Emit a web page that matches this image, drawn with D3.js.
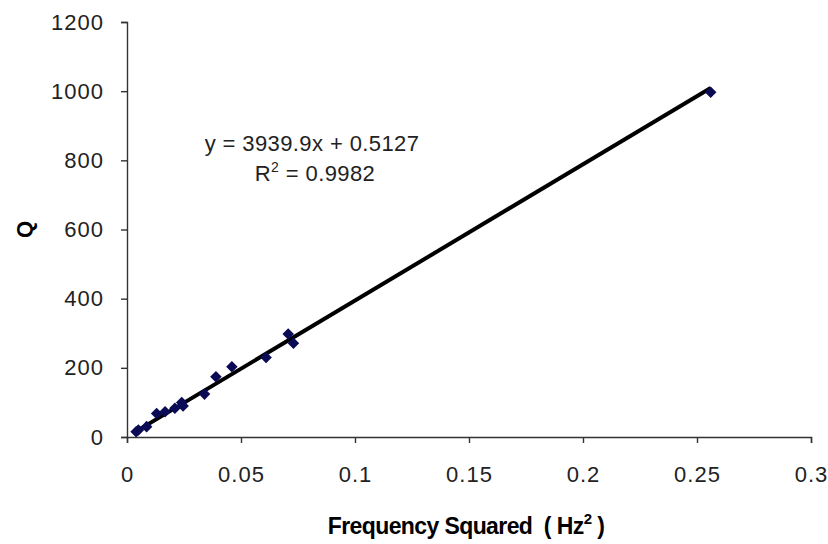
<!DOCTYPE html>
<html>
<head>
<meta charset="utf-8">
<script src="https://cdn.jsdelivr.net/npm/d3@7"></script>
<style>
  body { margin: 0; background: #fff; }
  text { font-family: "Liberation Sans", Arial, sans-serif; }
</style>
</head>
<body>
<div id="chart"></div>
<script>
// data
const freqSquared = [0.004, 0.005, 0.0086, 0.013, 0.0167, 0.021, 0.024, 0.0246, 0.034, 0.039, 0.046, 0.061, 0.0707, 0.073, 0.256];
const qValues     = [15, 20, 30, 68, 73, 83, 100, 90, 124, 174, 203, 230, 298, 271, 997];
const xTicks = [0, 0.05, 0.1, 0.15, 0.2, 0.25, 0.3];
const yTicks = [0, 200, 400, 600, 800, 1000, 1200];
const slope = 3939.9, intercept = 0.5127;

const width = 828, height = 544;
const margin = { left: 127, right: 17, top: 22, bottom: 107 };

const svg = d3.select("#chart").append("svg")
    .attr("width", width)
    .attr("height", height)

const x = d3.scaleLinear().domain([0, 0.3]).range([margin.left, width - margin.right]);
const y = d3.scaleLinear().domain([0, 1200]).range([height - margin.bottom, margin.top]);

// axes
const xAxis = svg.append("g")
    .attr("transform", `translate(0,${y(0)})`)
    .call(d3.axisBottom(x).tickValues(xTicks).tickSize(6).tickFormat(d => d))
const yAxis = svg.append("g")
    .attr("transform", `translate(${x(0)},0)`)
    .call(d3.axisLeft(y).tickValues(yTicks).tickSize(6).tickFormat(d => d))

for (const ax of [xAxis, yAxis]) {
    ax.select(".domain").attr("stroke", "#333").attr("stroke-width", 1.4)
    ax.selectAll(".tick line").attr("stroke", "#333").attr("stroke-width", 1.4)
    ax.selectAll(".tick text")
        .attr("fill", "#222")
        .style("font-size", "22px")
        .style("letter-spacing", "1px")
        .style("font-family", "'Liberation Sans', Arial, sans-serif")
}
xAxis.selectAll(".tick text").attr("y", 29).attr("dy", "0.71em")
yAxis.selectAll(".tick text").attr("x", -23)

// trend line over the range of the data
const xmin = d3.min(freqSquared), xmax = d3.max(freqSquared);
svg.append("line")
    .attr("x1", x(xmin)).attr("y1", y(slope * xmin + intercept))
    .attr("x2", x(xmax)).attr("y2", y(slope * xmax + intercept))
    .attr("stroke", "#000")
    .attr("stroke-width", 4)

// data points (diamonds)
const points = freqSquared.map((f, i) => ({ f, q: qValues[i] }));
svg.append("g").selectAll("path")
    .data(points)
    .join("path")
    .attr("d", d3.symbol(d3.symbolDiamond2, 85))
    .attr("transform", d => `translate(${x(d.f)},${y(d.q)})`)
    .attr("fill", "#0b0b55")

// equation label
const eq = svg.append("g").style("font-size", "22px").style("letter-spacing", "0.4px").attr("fill", "#222")
eq.append("text")
    .attr("x", 312).attr("y", 151)
    .attr("text-anchor", "middle")
    .text("y = 3939.9x + 0.5127")
const r2 = eq.append("text")
    .attr("x", 315).attr("y", 181)
    .attr("text-anchor", "middle")
r2.append("tspan").text("R")
r2.append("tspan").attr("dy", -9).style("font-size", "14px").text("2")
r2.append("tspan").attr("dy", 9).text(" = 0.9982")

// axis titles
svg.append("text")
    .attr("transform", `translate(32,${y(600)}) rotate(-90)`)
    .attr("text-anchor", "middle")
    .style("font-size", "22px")
    .style("font-weight", "bold")
    .text("Q")

const xt = svg.append("text")
    .attr("x", 466).attr("y", 534)
    .attr("text-anchor", "middle")
    .style("font-size", "23px")
    .style("font-weight", "bold")
    .style("letter-spacing", "-0.6px")
    .style("white-space", "pre")
xt.append("tspan").text("Frequency Squared  ( Hz")
xt.append("tspan").attr("dy", -10).style("font-size", "15px").text("2")
xt.append("tspan").attr("dy", 10).text(" )")
</script>
</body>
</html>
